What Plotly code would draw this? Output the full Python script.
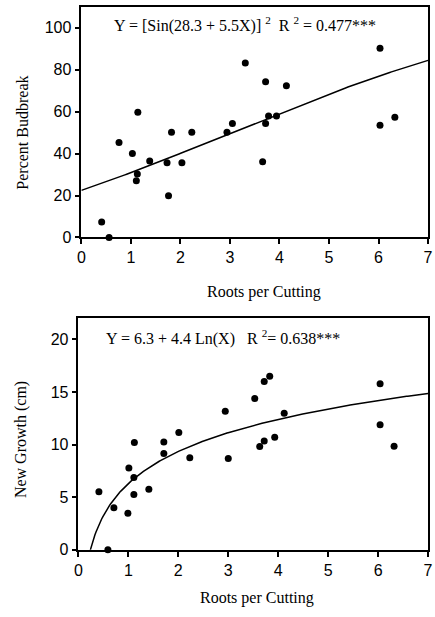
import numpy as np
import plotly.graph_objects as go

# ---- data ----
roots_budbreak = [0.41, 0.56, 0.76, 1.03, 1.14, 1.13, 1.11, 1.38, 1.73, 1.76, 1.82, 2.03, 2.23,
                  2.94, 3.05, 3.31, 3.66, 3.72, 3.72, 3.78, 3.94, 4.14, 6.03, 6.03, 6.33]
pct_budbreak = [7.4, 0.0, 45.3, 40.1, 59.7, 30.3, 27.1, 36.5, 35.7, 19.9, 50.2, 35.7, 50.2,
                50.2, 54.4, 83.2, 36.1, 74.3, 54.4, 58.0, 58.0, 72.4, 90.3, 53.6, 57.4]

roots_growth = [0.41, 0.59, 0.71, 0.99, 1.01, 1.11, 1.11, 1.12, 1.41, 1.71, 1.71, 2.01, 2.23,
                2.94, 3.00, 3.53, 3.63, 3.72, 3.72, 3.83, 3.93, 4.12, 6.04, 6.04, 6.32]
new_growth = [5.53, 0.0, 4.0, 3.47, 7.78, 6.88, 5.25, 10.19, 5.75, 10.25, 9.16, 11.16, 8.75,
              13.16, 8.69, 14.38, 9.81, 16.0, 10.34, 16.5, 10.69, 12.97, 15.78, 11.88, 9.84]

x_ticks = [0, 1, 2, 3, 4, 5, 6, 7]
budbreak_ticks = [0, 20, 40, 60, 80, 100]
growth_ticks = [0, 5, 10, 15, 20]

# fitted model coefficients (as printed on the chart)
sin_a, sin_b = 28.3, 5.5      # Y = [Sin(a + bX)]^2 (degrees), in percent
ln_a, ln_b = 6.3, 4.4         # Y = a + b Ln(X)

W, H = 435, 617

fit_x1 = np.linspace(0, 7, 200)
fit_y1 = 100 * np.sin(np.radians(sin_a + sin_b * fit_x1)) ** 2
x_zero = np.exp(-ln_a / ln_b)
fit_x2 = np.linspace(x_zero, 7, 300)
fit_y2 = ln_a + ln_b * np.log(fit_x2)

fig = go.Figure()
fig.add_trace(go.Scatter(x=roots_budbreak, y=pct_budbreak, mode="markers",
                         marker=dict(color="black", size=7), cliponaxis=False,
                         xaxis="x", yaxis="y", showlegend=False))
fig.add_trace(go.Scatter(x=fit_x1, y=fit_y1, mode="lines",
                         line=dict(color="black", width=1.5),
                         xaxis="x", yaxis="y", showlegend=False))
fig.add_trace(go.Scatter(x=roots_growth, y=new_growth, mode="markers",
                         marker=dict(color="black", size=7), cliponaxis=False,
                         xaxis="x2", yaxis="y2", showlegend=False))
fig.add_trace(go.Scatter(x=fit_x2, y=fit_y2, mode="lines",
                         line=dict(color="black", width=1.5),
                         xaxis="x2", yaxis="y2", showlegend=False))

axis_common = dict(showline=True, mirror=True, linecolor="black", linewidth=1.5,
                   ticks="outside", ticklen=5, tickwidth=1.5, tickcolor="black",
                   showgrid=False, zeroline=False, ticklabeloverflow="allow",
                   tickfont=dict(family="Liberation Sans, Arial", size=16, color="black"))

def px_x(p):
    return p / W

def px_y(p):
    return 1 - p / H

fig.update_layout(
    width=W, height=H,
    margin=dict(l=0, r=0, t=0, b=0),
    paper_bgcolor="white", plot_bgcolor="white",
    xaxis=dict(domain=[px_x(79), px_x(433)], range=[0, 7], tickvals=x_ticks,
               anchor="y", **axis_common),
    yaxis=dict(domain=[px_y(241), px_y(7)], range=[0, 110], tickvals=budbreak_ticks,
               anchor="x", **axis_common),
    xaxis2=dict(domain=[px_x(76), px_x(433)], range=[0, 7], tickvals=x_ticks,
                anchor="y2", **axis_common),
    yaxis2=dict(domain=[px_y(558), px_y(323)], range=[0, 22], tickvals=growth_ticks,
                anchor="x2", **axis_common),
)

serif = dict(family="Liberation Serif, Times New Roman", size=16, color="black")
ann = [
    dict(text="Roots per Cutting", x=px_x(266), y=px_y(296)),
    dict(text="Roots per Cutting", x=px_x(258), y=px_y(607)),
    dict(text="Percent Budbreak", x=px_x(18), y=px_y(135), textangle=-90),
    dict(text="New Growth (cm)", x=px_x(18), y=px_y(446), textangle=-90),
    dict(text="Y = [Sin(28.3 + 5.5X)] <sup>2</sup>  R <sup>2</sup> = 0.477***",
         x=px_x(110), y=px_y(25), xanchor="left"),
    dict(text="Y = 6.3 + 4.4 Ln(X)   R <sup>2</sup>= 0.638***",
         x=px_x(102), y=px_y(343), xanchor="left"),
]
for a in ann:
    base = dict(xref="paper", yref="paper", showarrow=False, font=serif,
                xanchor="center", yanchor="middle")
    base.update(a)
    fig.add_annotation(**base)

fig.write_html(
    "out.html", config={"displayModeBar": False},
    post_script=("document.documentElement.style.margin='0';"
                 "document.body.style.margin='0';"
                 "document.documentElement.style.overflow='hidden';"
                 "document.body.style.overflow='hidden';"
                 "var d=document.getElementById('{plot_id}');"
                 "d.style.position='fixed';d.style.left='0px';d.style.top='0px';"))
